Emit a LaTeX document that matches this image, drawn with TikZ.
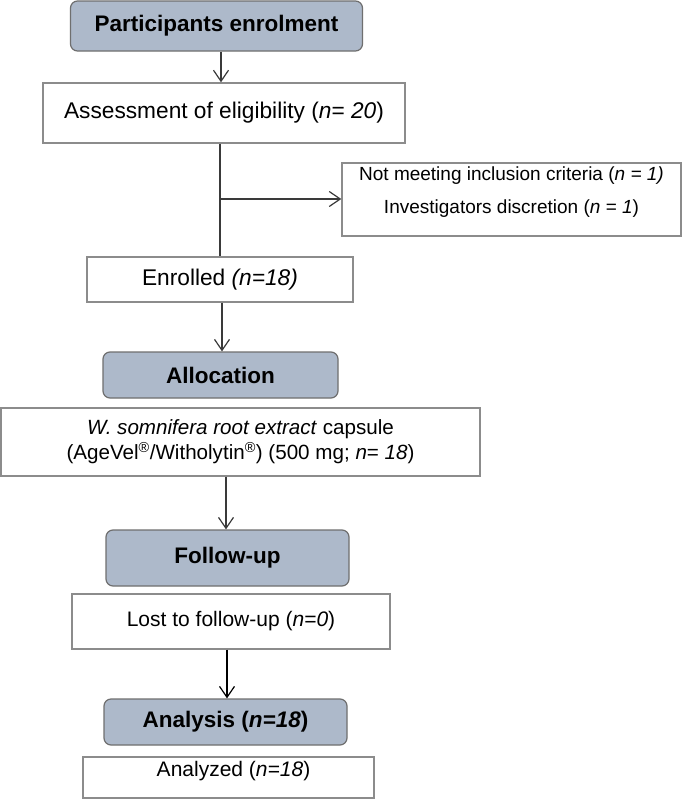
\documentclass[tikz,border=0pt]{standalone}
\usepackage{fontspec}
\setmainfont{Liberation Sans}
\usetikzlibrary{arrows.meta}
\definecolor{hdrfill}{HTML}{ADB9CA}
\definecolor{hdrline}{HTML}{6F6F6F}
\definecolor{boxline}{HTML}{8C8C8C}
\definecolor{arrline}{HTML}{3A3A3A}
\tikzset{
  hdr/.style={draw=hdrline, line width=1.2pt, fill=hdrfill, rounded corners=7pt, inner sep=0pt, font=\fontsize{22.5}{26}\selectfont\bfseries},
  plain/.style={draw=boxline, line width=1.4pt, fill=white, inner sep=0pt, align=center, font=\fontsize{22.7}{27}\selectfont},
  txt/.style={inner sep=0pt, align=center},
  arr/.style={draw=arrline, line width=1.2pt, -{Straight Barb[length=11pt,width=15pt,line width=1.2pt]}},
  ln/.style={draw=arrline, line width=1.2pt}
}
\begin{document}
\begin{tikzpicture}[x=1pt,y=-1pt]
\useasboundingbox[fill=white] (0,0) rectangle (684,809);
\node[hdr, minimum width=292pt, minimum height=50pt] (b1) at (216.5,26) {Participants enrolment};
\node[plain, minimum width=362pt, minimum height=60pt] (b2) at (224,113) {Assessment of eligibility (\textit{n}= \textit{20})};
\node[plain, minimum width=339pt, minimum height=73pt] (ex) at (511.5,199.5) {};
\node[txt, font=\fontsize{19}{33}\selectfont] (ext) at (511.5,192) {Not meeting inclusion criteria (\textit{n = 1)}\\Investigators discretion (\textit{n} = \textit{1})};
\node[plain, minimum width=266pt, minimum height=45pt] (en) at (220,279.5) {Enrolled \textit{(n=18)}};
\node[hdr, minimum width=235pt, minimum height=46pt] (al) at (220.5,375) {Allocation};
\node[plain, minimum width=479pt, minimum height=68pt, font=\fontsize{20.6}{25}\selectfont] (cap) at (240.5,442) {\textit{W. somnifera root extract} capsule\\(AgeVel\textsuperscript{®}/Witholytin\textsuperscript{®}) (500 mg; \textit{n}= \textit{18})};
\node[hdr, minimum width=243pt, minimum height=56pt] (fu) at (227.5,558) {Follow-up};
\node[plain, minimum width=318pt, minimum height=55pt, font=\fontsize{21}{25}\selectfont] (lost) at (231,621.5) {Lost to follow-up (\textit{n=0})};
\node[hdr, minimum width=243pt, minimum height=46pt] (an) at (225.5,722) {Analysis (\textit{n=18})};
\node[plain, minimum width=291pt, minimum height=41pt] (anz) at (228.5,777.5) {};
\node[txt, font=\fontsize{21}{25}\selectfont] (anzt) at (233.5,771) {Analyzed (\textit{n=18})};
\coordinate (br) at (220,199);
\draw[arr] (221,0 |- b1.south) -- (221,0 |- b2.north);
\draw[ln] (220,0 |- b2.south) -- (220,0 |- en.north);
\draw[arr] (br) -- (br -| ex.west);
\draw[arr] (222,0 |- en.south) -- (222,0 |- al.north);
\draw[arr] (226,0 |- cap.south) -- (226,0 |- fu.north);
\draw[arr, line width=1.6pt, draw=black] (227,0 |- lost.south) -- (227,0 |- an.north);
\end{tikzpicture}
\end{document}
